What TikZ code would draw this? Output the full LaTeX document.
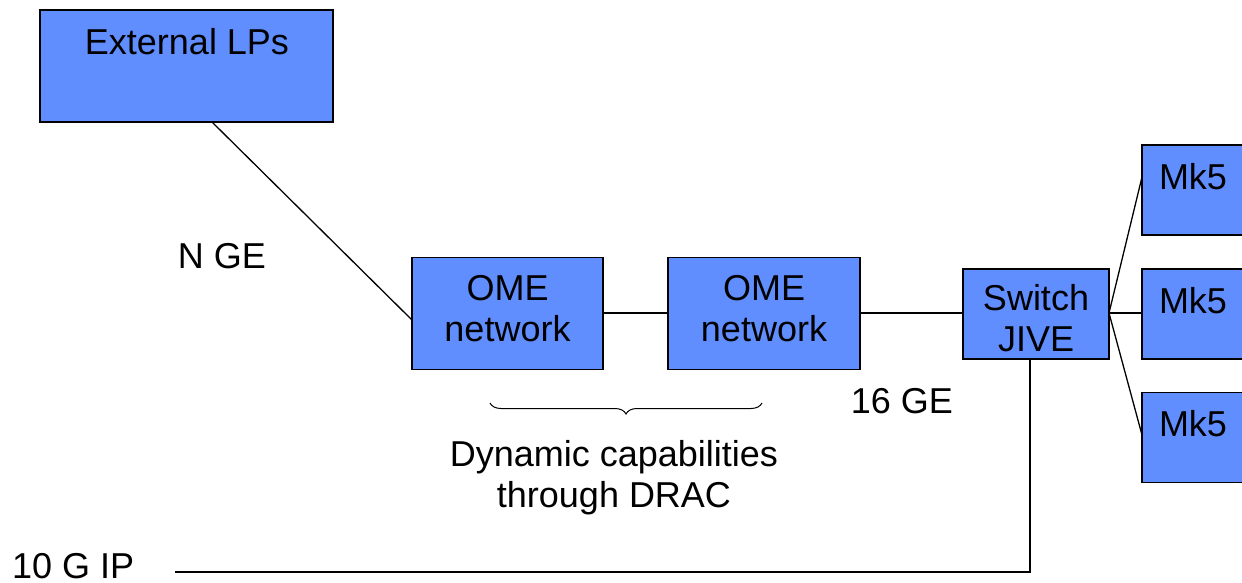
\documentclass[tikz,border=0pt]{standalone}
\usepackage{fontspec}
\setmainfont{Liberation Sans}
\usetikzlibrary{decorations.pathreplacing}
\definecolor{boxblue}{RGB}{96,142,255}
\tikzset{
  box/.style={draw=black, line width=1.6pt, fill=boxblue, inner sep=0pt, outer sep=0pt},
  lbl/.style={inner sep=0pt, font=\fontsize{36}{41}\selectfont, align=center},
  conn/.style={line width=1.3pt, black}
}
\begin{document}
\begin{tikzpicture}[x=1pt,y=-1pt]
\useasboundingbox (0,0) rectangle (1242,583);
% boxes
\node[box, minimum width=293pt, minimum height=112pt] (ext) at (186.5,66) {};
\node[lbl] (extt) at (187,42) {External LPs};
\node[box, minimum width=191pt, minimum height=112pt] (ome1) at (507.5,313.5) {};
\node[lbl] (ome1t) at (507.5,309) {OME\\network};
\node[box, minimum width=192pt, minimum height=112pt] (ome2) at (764,313.5) {};
\node[lbl] (ome2t) at (764,309) {OME\\network};
\node[box, minimum width=146pt, minimum height=90pt] (sw) at (1036,314) {};
\node[lbl] (swt) at (1036,318) {Switch\\JIVE};
\node[box, minimum width=106pt, minimum height=90pt] (mk1) at (1195,190) {};
\node[lbl] (mk1t) at (1193,177) {Mk5};
\node[box, minimum width=106pt, minimum height=90pt] (mk2) at (1195,314) {};
\node[lbl] (mk2t) at (1193,301) {Mk5};
\node[box, minimum width=106pt, minimum height=90pt] (mk3) at (1195,437.5) {};
\node[lbl] (mk3t) at (1193,424) {Mk5};
% labels
\node[lbl] (nge) at (222,256) {N GE};
\node[lbl] (sge) at (902,401) {16 GE};
\node[lbl] (dyn) at (614,478) {Dynamic capabilities\\through DRAC};
\node[lbl, anchor=west] (tip) at (12,566) {10 G IP};
% connectors
\coordinate (extb) at (212,122);
\coordinate (ome1l) at (412,320);
\draw[conn] (extb) -- (ome1l);
\draw[conn] (ome1.east |- 0,313) -- (ome2.west |- 0,313);
\draw[conn] (ome2.east |- 0,313) -- (sw.west |- 0,313);
\coordinate (swr) at (1109,313);
\draw[conn] (swr) -- (mk1.west |- 0,177);
\draw[conn] (swr) -- (mk2.west |- 0,313);
\draw[conn] (swr) -- (mk3.west |- 0,435);
\coordinate (ipend) at (175,572);
\draw[conn] (sw.south -| 1030,0) -- (1030,572) -- (ipend);
% brace
\coordinate (br1) at (762,403);
\coordinate (br2) at (490,403);
\draw[line width=1pt, decorate, decoration={brace, amplitude=11pt}] (br1) -- (br2);
\end{tikzpicture}
\end{document}
